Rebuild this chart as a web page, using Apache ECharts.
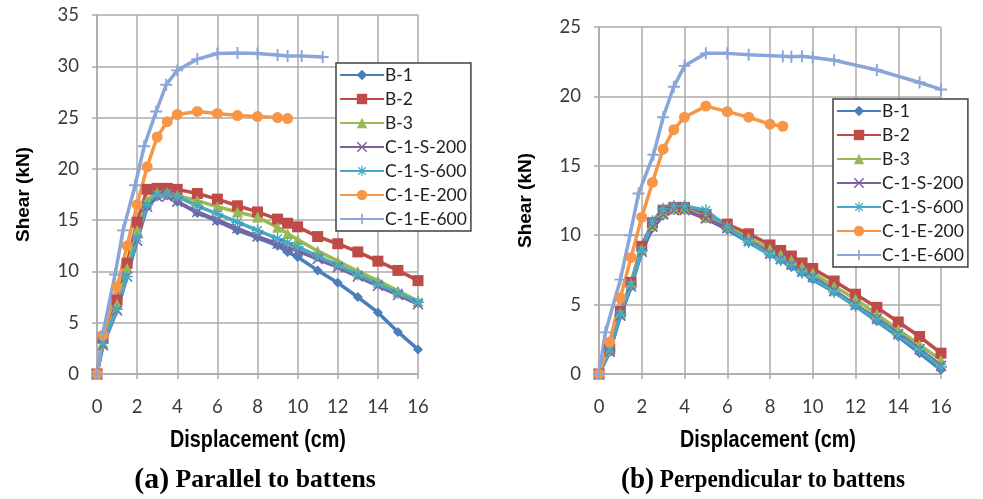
<!DOCTYPE html>
<html>
<head>
<meta charset="utf-8">
<script src="https://cdn.jsdelivr.net/npm/echarts@6/dist/echarts.min.js"></script>
<style>
html,body{margin:0;padding:0;background:#fff;}
#chart{width:983px;height:499px;}
</style>
</head>
<body>
<div id="chart"></div>
<script>
// ---------- data: (a) Parallel to battens ----------
var seriesNames = ['B-1','B-2','B-3','C-1-S-200','C-1-S-600','C-1-E-200','C-1-E-600'];
var xTicksA = [0,2,4,6,8,10,12,14,16];
var yTicksA = [0,5,10,15,20,25,30,35];
var xTicksB = [0,2,4,6,8,10,12,14,16];
var yTicksB = [0,5,10,15,20,25];

var aX_std = [0,0.3,1,1.5,2,2.5,3,3.5,4,5,6,7,8,9,9.5,10,11,12,13,14,15,16];
var aY_B1  = [0,3.2,6.5,10.0,13.5,16.3,17.3,17.4,16.8,15.7,14.9,14.0,13.3,12.5,11.9,11.4,10.1,8.9,7.5,6.0,4.1,2.4];
var aY_B2  = [0,3.5,7.2,10.8,14.8,18.0,18.1,18.1,18.0,17.6,17.05,16.4,15.8,15.1,14.7,14.35,13.4,12.7,11.9,11.0,10.1,9.1];
var aY_B3  = [0,3.0,6.8,10.3,14.0,17.0,17.7,17.7,17.4,16.9,16.3,15.8,15.3,14.3,13.7,13.1,12.0,11.0,10.0,9.1,8.1,7.1];
var aY_S200= [0,2.8,6.2,9.5,13.0,16.3,17.3,17.3,16.8,15.8,15.0,14.2,13.4,12.7,12.3,12.0,11.2,10.4,9.5,8.6,7.7,6.8];
var aY_S600= [0,3.0,6.3,9.5,13.3,16.5,17.5,17.6,17.3,16.4,15.6,14.8,14.0,13.2,12.8,12.4,11.5,10.6,9.7,8.8,7.9,7.0];
var aX_E200= [0,0.3,1,1.5,2,2.5,3,3.5,4,5,6,7,8,9,9.5];
var aY_E200= [0,3.8,8.5,12.5,16.5,20.2,23.1,24.6,25.3,25.6,25.4,25.2,25.1,25.0,24.9];
var aX_E600= [0,0.3,0.9,1.3,1.9,2.35,2.95,3.45,4,5,6,7,8,9,9.5,10.2,11.25];
var aY_E600= [0,4.0,9.7,14.0,18.4,22.2,25.6,28.2,29.6,30.7,31.25,31.3,31.25,31.1,31.0,31.0,30.9];

// ---------- data: (b) Perpendicular to battens ----------
var bX_std = [0,0.5,1,1.5,2,2.5,3,3.5,4,5,6,7,8,8.5,9,9.5,10,11,12,13,14,15,16];
var bY_B1  = [0,1.6,4.2,6.3,8.8,10.5,11.4,11.8,11.8,11.2,10.4,9.5,8.6,8.2,7.7,7.3,6.8,5.9,4.9,3.8,2.7,1.5,0.3];
var bY_B2  = [0,1.8,4.5,6.6,9.2,10.9,11.8,12.0,12.0,11.5,10.8,10.1,9.3,8.9,8.5,8.0,7.6,6.7,5.75,4.8,3.75,2.7,1.5];
var bY_B3  = [0,1.7,4.4,6.5,9.0,10.7,11.6,11.9,11.9,11.3,10.6,9.8,9.0,8.6,8.2,7.7,7.3,6.3,5.4,4.3,3.2,2.1,1.0];
var bY_S200= [0,1.6,4.2,6.3,8.8,10.6,11.5,11.8,11.8,11.2,10.5,9.6,8.7,8.3,7.9,7.4,7.0,6.0,5.0,4.0,2.9,1.8,0.6];
var bY_S600= [0,1.7,4.3,6.4,8.9,11.0,11.9,12.1,12.1,11.8,10.6,9.5,8.6,8.2,7.8,7.3,6.9,5.9,4.9,3.9,2.8,1.7,0.5];
var bX_E200= [0,0.5,1,1.5,2,2.5,3,3.5,4,5,6,7,8,8.6];
var bY_E200= [0,2.3,5.5,8.4,11.3,13.8,16.2,17.6,18.5,19.3,18.9,18.5,18.0,17.85];
var bX_E600= [0,0.3,1,1.45,1.85,2.55,3,3.5,4,5,6,7,8.6,9,9.5,10,11,13,15,16];
var bY_E600= [0,3.0,6.8,10.0,13.0,15.8,18.5,20.7,22.2,23.1,23.1,23.0,22.9,22.85,22.9,22.8,22.6,21.9,21.0,20.5];

var xTitle = 'Displacement (cm)';
var yTitle = 'Shear (kN)';
var captionTagA = '(a)', captionTextA = ' Parallel to battens';
var captionTagB = '(b)', captionTextB = ' Perpendicular to battens';

// ---------- styles ----------
var colors = ['#4A7EBB','#BE4B48','#98B954','#7D60A0','#46AAC5','#F79646','#8AA6D8'];
var symX = 'path://M1,0L5,4L9,0L10,1L6,5L10,9L9,10L5,6L1,10L0,9L4,5L0,1Z';
var symStar = 'path://M4.4,0H5.6V3.6L8.2,1L9,1.8L6.4,4.4H10V5.6H6.4L9,8.2L8.2,9L5.6,6.4V10H4.4V6.4L1.8,9L1,8.2L3.6,5.6H0V4.4H3.6L1,1.8L1.8,1L4.4,3.6Z';
var symPlus = 'path://M4.2,0H5.8V4.2H10V5.8H5.8V10H4.2V5.8H0V4.2H4.2Z';
var symbols = ['diamond','rect','triangle',symX,symStar,'circle',symPlus];
var symSizes = [10,11,11,11,12,11,12];

function zip(xs, ys){ var r=[]; for (var i=0;i<xs.length;i++) r.push([xs[i],ys[i]]); return r; }

var dataA = [zip(aX_std,aY_B1),zip(aX_std,aY_B2),zip(aX_std,aY_B3),zip(aX_std,aY_S200),zip(aX_std,aY_S600),zip(aX_E200,aY_E200),zip(aX_E600,aY_E600)];
var dataB = [zip(bX_std,bY_B1),zip(bX_std,bY_B2),zip(bX_std,bY_B3),zip(bX_std,bY_S200),zip(bX_std,bY_S600),zip(bX_E200,bY_E200),zip(bX_E600,bY_E600)];

var series = [];
[dataA, dataB].forEach(function(set, gi){
  set.forEach(function(d, i){
    series.push({
      name: seriesNames[i], type: 'line', xAxisIndex: gi, yAxisIndex: gi,
      data: d, symbol: symbols[i], symbolSize: symSizes[i], showAllSymbol: true,
      lineStyle: {width: 3.5, color: colors[i]},
      itemStyle: {color: colors[i]},
      emphasis: {disabled: true}
    });
  });
});

var gridColor = '#ABABAB';
var labelFont = 'Lato';
function xAx(gi, ticks){
  return {
    type: 'value', gridIndex: gi, min: ticks[0], max: ticks[ticks.length-1], interval: 2,
    axisLine: {show: true, lineStyle: {color: gridColor, width: 1.5}},
    axisTick: {show: true, length: 5, lineStyle: {color: gridColor, width: 1.5}},
    axisLabel: {fontFamily: labelFont, fontSize: 18.5, color: '#3a3a3a', margin: 24},
    splitLine: {show: true, lineStyle: {color: gridColor, width: 1.5}}
  };
}
function yAx(gi, ticks){
  return {
    type: 'value', gridIndex: gi, min: ticks[0], max: ticks[ticks.length-1], interval: 5,
    name: yTitle, nameLocation: 'middle', nameGap: 64,
    nameTextStyle: {fontFamily: 'Liberation Sans', fontWeight: 'bold', fontSize: 19, color: '#000'},
    axisLine: {show: true, lineStyle: {color: gridColor, width: 1.5}},
    axisTick: {show: true, length: 5, lineStyle: {color: gridColor, width: 1.5}},
    axisLabel: {fontFamily: labelFont, fontSize: 18.5, color: '#3a3a3a', margin: 18},
    splitLine: {show: true, lineStyle: {color: gridColor, width: 1.5}}
  };
}
function leg(left, top){
  return {
    data: seriesNames, orient: 'vertical', left: left, top: top,
    itemWidth: 44, itemHeight: 13, itemGap: 6, padding: [3, 4, 3, 3],
    borderColor: '#404040', borderWidth: 1.5, backgroundColor: '#fff',
    textStyle: {fontFamily: labelFont, fontSize: 17.5, color: '#222', padding: [0,0,0,-4]},
    selectedMode: false
  };
}
function xTitleText(cx){
  return {type: 'text', x: cx, y: 441, scaleX: 0.86,
    style: {text: xTitle, font: 'bold 23px "Liberation Sans"', fill: '#000', align: 'center', verticalAlign: 'middle'}};
}
function caption(cx, tag, txt, sx){
  return {type: 'text', x: cx, y: 481, scaleX: sx,
    style: {text: '{t|' + tag + '}{c|' + txt + '}', align: 'center', verticalAlign: 'middle', fill: '#000',
      rich: {t: {fontFamily: 'Liberation Serif', fontWeight: 'bold', fontSize: 29, fill: '#000'},
             c: {fontFamily: 'Liberation Serif', fontWeight: 'bold', fontSize: 25, fill: '#000'}}}};
}

var chart = echarts.init(document.getElementById('chart'), null, {renderer: 'canvas'});
chart.setOption({
  animation: false,
  backgroundColor: '#fff',
  grid: [
    {left: 97, top: 15, width: 321, height: 359},
    {left: 599, top: 27, width: 342, height: 347}
  ],
  xAxis: [xAx(0, xTicksA), xAx(1, xTicksB)],
  yAxis: [yAx(0, yTicksA), yAx(1, yTicksB)],
  legend: [leg(336, 63), leg(833, 99)],
  series: series,
  graphic: [
    xTitleText(258), xTitleText(768),
    caption(255, captionTagA, captionTextA, 1.03),
    caption(763, captionTagB, captionTextB, 0.93)
  ]
});
</script>
</body>
</html>
